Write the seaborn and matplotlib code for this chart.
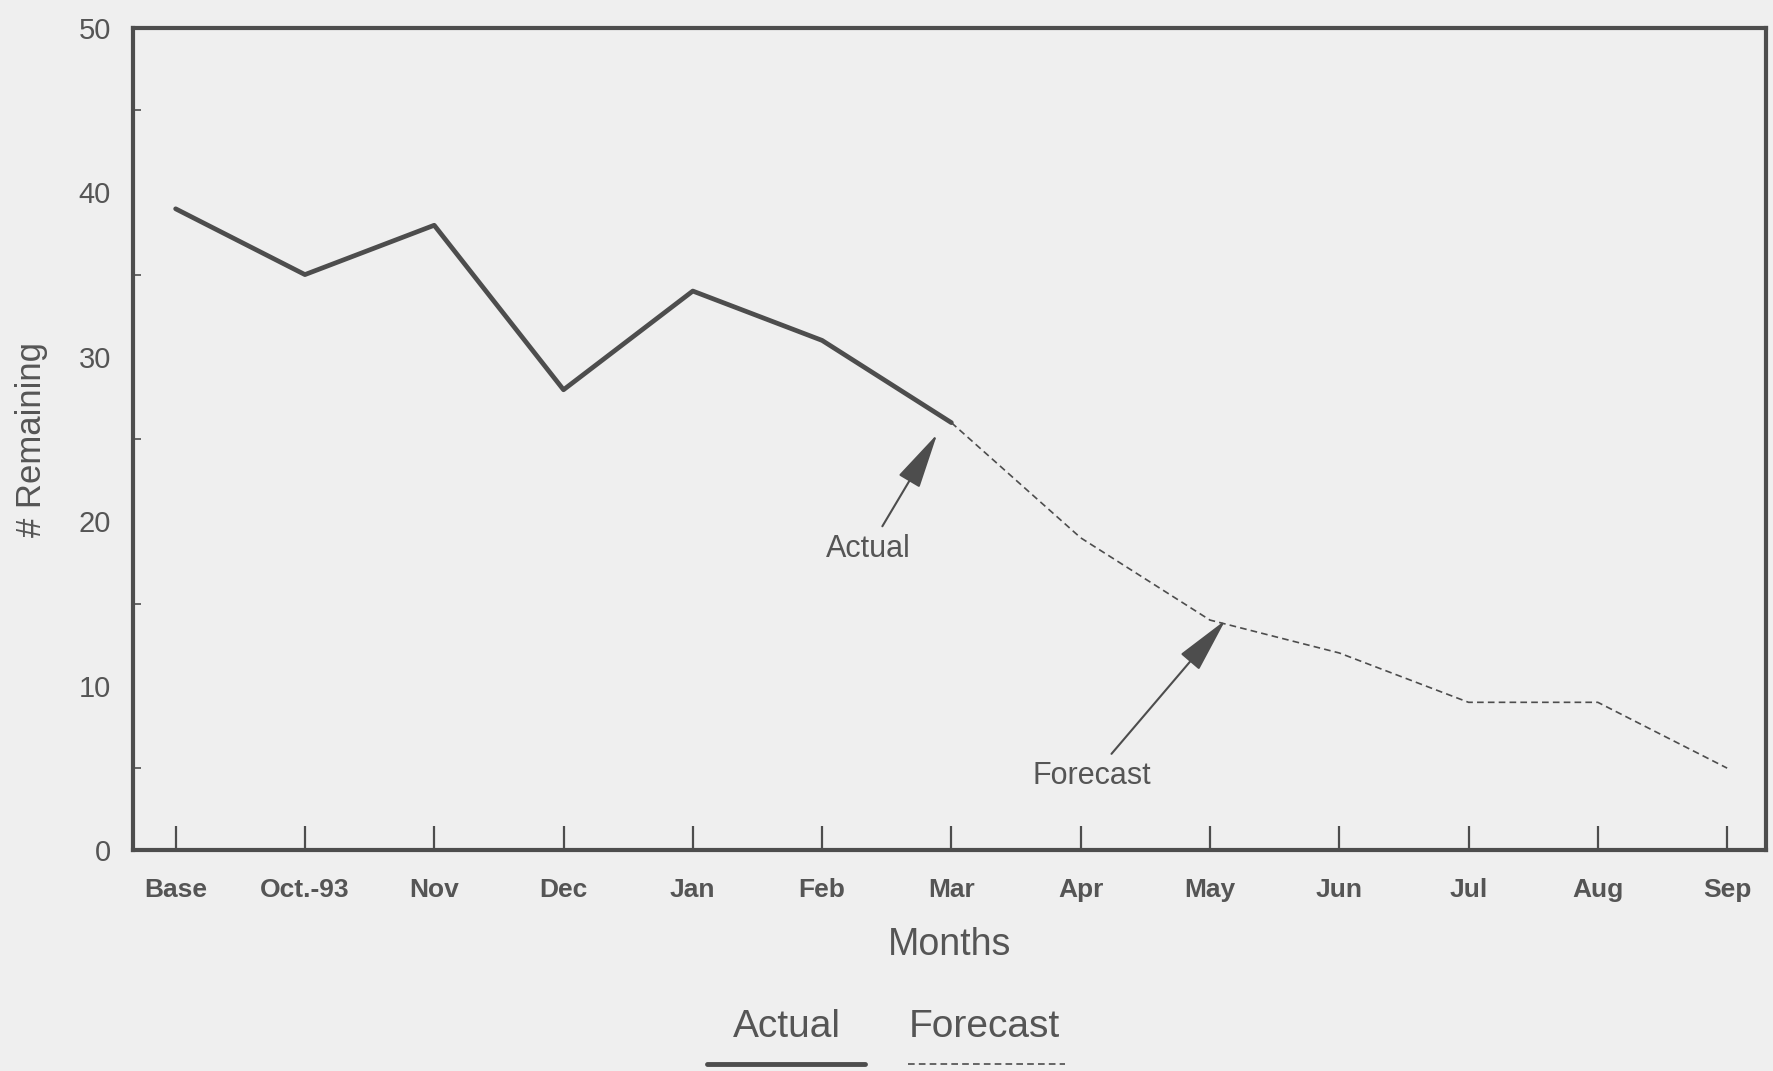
import matplotlib
matplotlib.use("Agg")
import matplotlib.pyplot as plt
from matplotlib.lines import Line2D
import seaborn as sns
import pandas as pd

months = ["Base", "Oct.-93", "Nov", "Dec", "Jan", "Feb", "Mar",
          "Apr", "May", "Jun", "Jul", "Aug", "Sep"]
actual_months = months[:7]
actual_values = [39, 35, 38, 28, 34, 31, 26]
forecast_months = months[6:]
forecast_values = [26, 19, 14, 12, 9, 9, 5]
y_ticks = [0, 10, 20, 30, 40, 50]
y_minor = [5, 15, 25, 35, 45]

BG = "#efefef"
INK = "#4d4d4d"
TXT = "#555555"

sns.set_theme(style="white")
plt.rcParams["font.family"] = ["Liberation Sans Narrow", "Liberation Sans", "DejaVu Sans"]

pos = {m: i for i, m in enumerate(months)}
df_a = pd.DataFrame({"x": [pos[m] for m in actual_months], "y": actual_values})
df_f = pd.DataFrame({"x": [pos[m] for m in forecast_months], "y": forecast_values})

fig = plt.figure(figsize=(17.73, 10.71), dpi=100, facecolor=BG)
ax = fig.add_axes([0.075, 0.206, 0.921, 0.768])
ax.set_facecolor(BG)

sns.lineplot(data=df_a, x="x", y="y", ax=ax, color=INK, linewidth=3.4, sort=False)
sns.lineplot(data=df_f, x="x", y="y", ax=ax, color=INK, linewidth=1.2,
             linestyle=(0, (4, 2.5)), sort=False)

ax.set_xlim(-0.33, 12.3)
ax.set_ylim(0, 50)
ax.set_xticks(range(len(months)))
ax.set_xticklabels(months, fontsize=19, fontweight="bold", color=TXT)
ax.set_yticks(y_ticks)
ax.set_yticklabels([str(v) for v in y_ticks], fontsize=21, color=TXT,
                   family=["Liberation Sans", "DejaVu Sans"])
ax.set_yticks(y_minor, minor=True)
ax.tick_params(axis="x", which="major", direction="in", length=17, width=1.6,
               color=INK, pad=20, bottom=True)
ax.tick_params(axis="y", which="major", length=0, pad=16)
ax.tick_params(axis="y", which="minor", direction="in", length=6, width=1.2,
               color=INK, left=True)
for s in ax.spines.values():
    s.set_visible(True)
    s.set_color(INK)
    s.set_linewidth(3)

ax.set_xlabel("Months", fontsize=27, color=TXT, labelpad=18)
ax.set_ylabel("# Remaining", fontsize=25, color=TXT, labelpad=22,
              family=["Liberation Sans", "DejaVu Sans"])

arrow = dict(arrowstyle="-|>,head_length=1.6,head_width=0.35", color=INK,
             lw=1.5, shrinkA=4, shrinkB=0)
ax.annotate("Actual", xy=(5.89, 25.3), xytext=(5.36, 18.3), ha="center",
            va="center", fontsize=22, color=TXT, arrowprops=arrow)
ax.annotate("Forecast", xy=(8.12, 14.0), xytext=(7.09, 4.5), ha="center",
            va="center", fontsize=22, color=TXT, arrowprops=arrow)

# legend: label above line sample
fig.text(787 / 1773, 1 - 1027 / 1071, "Actual", ha="center", va="center",
         fontsize=28, color=TXT)
fig.text(984 / 1773, 1 - 1027 / 1071, "Forecast", ha="center", va="center",
         fontsize=28, color=TXT)
fig.add_artist(Line2D([707 / 1773, 865 / 1773], [1 - 1064 / 1071] * 2,
                      transform=fig.transFigure, color=INK, lw=3.5))
fig.add_artist(Line2D([908 / 1773, 1065 / 1773], [1 - 1064 / 1071] * 2,
                      transform=fig.transFigure, color=INK, lw=1.2,
                      linestyle=(0, (4, 2.5))))

fig.savefig("out.png", dpi=100, facecolor=BG)
